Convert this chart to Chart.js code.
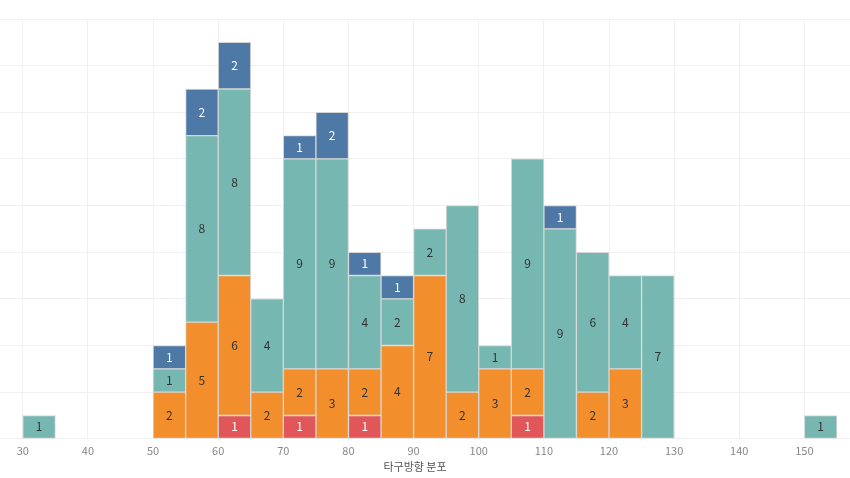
<!DOCTYPE html>
<html>
<head>
<meta charset="utf-8">
<script src="https://cdn.jsdelivr.net/npm/chart.js@4"></script>
<style>
  html, body { margin: 0; padding: 0; background: #fff; }
  #wrap { width: 850px; height: 478px; position: relative; }
</style>
</head>
<body>
<div id="wrap"><canvas id="chart"></canvas></div>
<script>
// bin start values (bins are 5 wide)
var binStarts = [30, 50, 55, 60, 65, 70, 75, 80, 85, 90, 95, 100, 105, 110, 115, 120, 125, 150];
var redCounts    = [0, 0, 0, 1, 0, 1, 0, 1, 0, 0, 0, 0, 1, 0, 0, 0, 0, 0];
var orangeCounts = [0, 2, 5, 6, 2, 2, 3, 2, 4, 7, 2, 3, 2, 0, 2, 3, 0, 0];
var tealCounts   = [1, 1, 8, 8, 4, 9, 9, 4, 2, 2, 8, 1, 9, 9, 6, 4, 7, 1];
var blueCounts   = [0, 1, 2, 2, 0, 1, 2, 1, 1, 0, 0, 0, 0, 1, 0, 0, 0, 0];
var binWidth = 5;
var axisTitle = "타구방향 분포";

var fontFamily = "'Noto Sans CJK KR', 'Noto Sans', sans-serif";

function toPoints(counts) {
  return binStarts.map(function (s, i) {
    return { x: s + binWidth / 2, y: counts[i] ? counts[i] : null };
  });
}

function series(label, counts, color, textColor) {
  return {
    label: label,
    data: toPoints(counts),
    backgroundColor: color,
    borderColor: "#d6d6d6",
    borderWidth: 1,
    borderSkipped: false,
    barPercentage: 1,
    categoryPercentage: 1,
    textColor: textColor,
  };
}

var barLabels = {
  id: "barLabels",
  afterDatasetsDraw: function (chart) {
    var ctx = chart.ctx;
    ctx.save();
    ctx.font = "12px " + fontFamily;
    ctx.textAlign = "center";
    ctx.textBaseline = "middle";
    chart.data.datasets.forEach(function (ds, di) {
      var meta = chart.getDatasetMeta(di);
      meta.data.forEach(function (bar, i) {
        var v = ds.data[i].y;
        if (!v) return;
        ctx.fillStyle = ds.textColor;
        ctx.fillText(String(v), bar.x, (bar.y + bar.base) / 2);
      });
    });
    ctx.restore();
  },
};

var axisTitlePlugin = {
  id: "axisTitlePlugin",
  afterDraw: function (chart) {
    var ctx = chart.ctx;
    ctx.save();
    ctx.font = "11px " + fontFamily;
    ctx.fillStyle = "#555";
    ctx.textAlign = "center";
    ctx.textBaseline = "middle";
    ctx.fillText(axisTitle, 415, 467);
    ctx.restore();
  },
};

new Chart(document.getElementById("chart"), {
  type: "bar",
  data: {
    datasets: [
      series("red", redCounts, "#E15759", "#ffffff"),
      series("orange", orangeCounts, "#F28E2B", "#333333"),
      series("teal", tealCounts, "#76B7B2", "#333333"),
      series("blue", blueCounts, "#4E79A7", "#ffffff"),
    ],
  },
  options: {
    responsive: true,
    maintainAspectRatio: false,
    animation: false,
    layout: { padding: { top: 19, bottom: 16, left: 0, right: 0 } },
    plugins: {
      legend: { display: false },
      tooltip: { enabled: false },
    },
    scales: {
      x: {
        type: "linear",
        stacked: true,
        offset: false,
        min: 26.5,
        max: 157,
        grid: { color: "#f0f0f0", offset: false, drawTicks: false },
        border: { display: false },
        ticks: {
          stepSize: 10,
          includeBounds: false,
          padding: 5,
          color: "#888888",
          font: { family: fontFamily, size: 11 },
        },
      },
      y: {
        stacked: true,
        min: 0,
        max: 18,
        grid: { color: "#f0f0f0", drawTicks: false },
        border: { display: false },
        ticks: { display: false, stepSize: 2 },
      },
    },
  },
  plugins: [barLabels, axisTitlePlugin],
});
</script>
</body>
</html>
